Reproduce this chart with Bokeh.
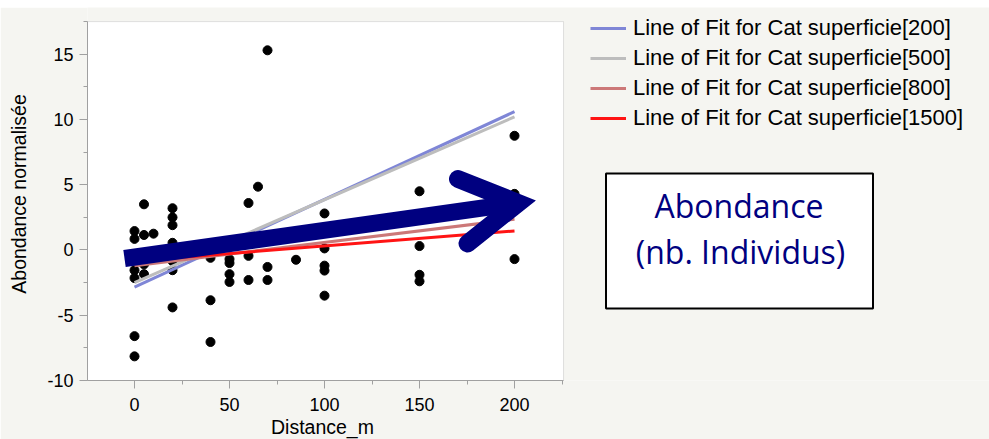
from bokeh.plotting import figure
from bokeh.models import (Range1d, SingleIntervalTicker, Legend, LegendItem,
                          BoxAnnotation, Label, Spacer, ColumnDataSource,
                          PrintfTickFormatter, Title)
from bokeh.layouts import column
from bokeh.embed import file_html
from bokeh.resources import INLINE

# ---- data ----
distance = [0, 0, 0, 0, 0, 0,
            5, 5, 5, 5,
            10,
            20, 20, 20, 20, 20, 20, 20,
            40, 40, 40,
            50, 50, 50, 50,
            60, 60, 60,
            65,
            70, 70, 70,
            85,
            100, 100, 100, 100, 100,
            150, 150, 150, 150,
            200, 200, 200]
abondance = [1.45, 0.85, -1.55, -2.15, -6.6, -8.15,
             3.5, 1.15, -1.1, -1.85,
             1.25,
             3.2, 2.5, 1.9, 0.55, -0.85, -1.55, -4.4,
             -0.6, -3.85, -7.05,
             -0.7, -1.0, -1.85, -2.45,
             3.6, -0.45, -2.3,
             4.85,
             15.3, -1.3, -2.3,
             -0.75,
             2.8, 0.12, -1.2, -1.58, -3.5,
             4.5, 0.3, -1.9, -2.4,
             8.75, 4.3, -0.7]

fit_categories = ["200", "500", "800", "1500"]
fit_x = [0, 200]
fit_y_start = [-2.85, -2.5, -1.2, -0.85]
fit_y_end = [10.6, 10.2, 2.35, 1.46]
fit_colors = ["#7f86d6", "#bdbdbd", "#cc7878", "#ff1414"]

x_axis_bounds = (-24.74, 225.8)
y_axis_bounds = (-10, 17.5)
x_ticks_interval = 50
y_ticks_interval = 5

BG = "#f5f5f1"
FONT = "Liberation Sans"
NAVY = "#000080"
GRAY = "#a0a0a0"

p = figure(width=989, height=432, output_backend="svg", toolbar_location=None,
           x_range=Range1d(-24.74, 450.0), y_range=Range1d(-10, 18.58),
           min_border_left=87, min_border_right=0, min_border_top=0,
           min_border_bottom=59,
           background_fill_color=BG, border_fill_color=BG,
           outline_line_color=None)
p.grid.visible = False

# white plotting area with grey outline (the chart frame)
p.add_layout(BoxAnnotation(left=x_axis_bounds[0], right=x_axis_bounds[1],
                           bottom=y_axis_bounds[0], top=y_axis_bounds[1],
                           fill_color="white", fill_alpha=1,
                           line_color=GRAY, line_width=1, level="underlay"))

for ax, interval, bounds in ((p.xaxis[0], x_ticks_interval, x_axis_bounds),
                             (p.yaxis[0], y_ticks_interval, y_axis_bounds)):
    ax.ticker = SingleIntervalTicker(interval=interval, num_minor_ticks=2)
    ax.formatter = PrintfTickFormatter(format="%d")
    ax.bounds = bounds
    ax.axis_line_color = GRAY
    ax.major_tick_line_color = GRAY
    ax.minor_tick_line_color = GRAY
    ax.major_tick_out = 8
    ax.major_tick_in = 0
    ax.minor_tick_out = 4
    ax.minor_tick_in = 0
    ax.major_label_text_font = FONT
    ax.major_label_text_font_size = "18px"
    ax.major_label_text_color = "black"
    ax.axis_label_text_font = FONT
    ax.axis_label_text_font_size = "19.5px"
    ax.axis_label_text_font_style = "normal"
    ax.axis_label_text_color = "black"

p.yaxis.axis_label = "Abondance normalisée"
p.xaxis.major_label_standoff = 9
p.yaxis.major_label_standoff = 6
p.yaxis.axis_label_standoff = 14

# x-axis title, centred under the plotting area
p.add_layout(Title(text="Distance_m", align="left", offset=183.5,
                   text_font=FONT, text_font_size="19.5px",
                   text_font_style="normal", text_color="black",
                   standoff=0), "below")

src = ColumnDataSource(dict(x=distance, y=abondance))
p.scatter("x", "y", source=src, size=9, color="black")

items = []
for cat, y0, y1, col in zip(fit_categories, fit_y_start, fit_y_end, fit_colors):
    r = p.line(fit_x, [y0, y1], line_color=col, line_width=3)
    items.append(LegendItem(label="Line of Fit for Cat superficie[%s]" % cat,
                            renderers=[r]))

# ---- overlay arrow (annotation drawn over the chart) ----
arrow_shaft_x = [-5.26, 201.95]
arrow_shaft_y = [-0.65, 3.60]
arrow_head_x = [170.26, 201.95, 175.26]
arrow_head_y = [5.44, 3.60, 0.50]
p.line(arrow_shaft_x, arrow_shaft_y, line_color=NAVY, line_width=17, line_cap="butt")
p.line(arrow_head_x, arrow_head_y, line_color=NAVY, line_width=18,
       line_join="miter", line_cap="round")

legend = Legend(items=items, location=(503, 247), border_line_color=None,
                background_fill_alpha=0, label_text_font=FONT,
                label_text_font_size="22px", label_text_color="black",
                glyph_width=36, glyph_height=30, label_height=30,
                spacing=0, padding=0, margin=0, label_standoff=7)
p.add_layout(legend)

box = BoxAnnotation(left=518.5, right=785.5, top=207, bottom=72,
                    left_units="screen", right_units="screen",
                    top_units="screen", bottom_units="screen",
                    fill_color="white", fill_alpha=1,
                    line_color="black", line_width=2, line_alpha=1)
p.add_layout(box)

p.add_layout(Label(x=651.5, y=175.3, x_units="screen", y_units="screen",
                   text="Abondance", text_align="center",
                   text_baseline="alphabetic", text_font="Open Sans",
                   text_font_size="32px", text_color=NAVY))
p.add_layout(Label(x=653, y=129.3, x_units="screen", y_units="screen",
                   text="(nb. Individus)", text_align="center",
                   text_baseline="alphabetic", text_font="Open Sans",
                   text_font_size="32px", text_color=NAVY))

layout = column(Spacer(width=989, height=7), p)
open("out.html", "w").write(file_html(layout, INLINE))
